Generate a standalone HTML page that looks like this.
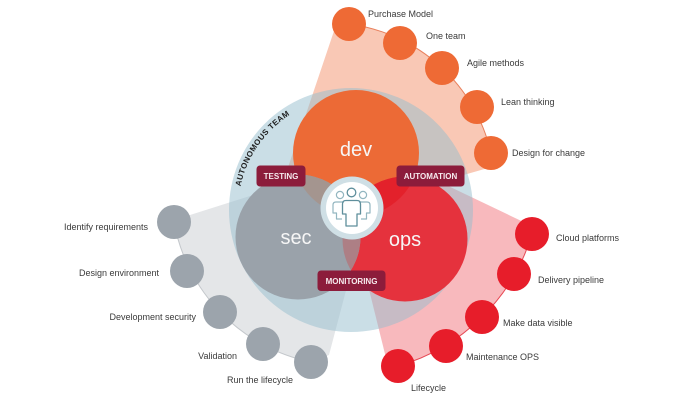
<!DOCTYPE html>
<html>
<head>
<meta charset="utf-8">
<style>
  html,body{margin:0;padding:0;background:#ffffff;}
  body{width:700px;height:406px;overflow:hidden;}
  svg{display:block;}
  .lbl{font-family:"Liberation Sans",Arial,sans-serif;font-size:9px;fill:#3a3a3a;}
  .tag{font-family:"Liberation Sans",Arial,sans-serif;font-size:8px;font-weight:bold;fill:#f6eaee;}
  .big{font-family:"Liberation Sans",Arial,sans-serif;font-size:20px;fill:#f6f6f6;font-weight:300;}
  .arc{font-family:"Liberation Sans",Arial,sans-serif;font-size:8px;font-weight:bold;fill:#1e1e1e;letter-spacing:0.4px;}
</style>
</head>
<body>
<svg width="700" height="406" viewBox="0 0 700 406" xmlns="http://www.w3.org/2000/svg">
  <defs>
    <clipPath id="cDev"><circle cx="356" cy="153" r="63"/></clipPath>
    <clipPath id="cSec"><circle cx="298" cy="237" r="62.5"/></clipPath>
    <path id="teamArc" d="M 240.5,186.5 A 113 113 0 0 1 294.5,112.1"/>
  </defs>

  <!-- Fans -->
  <path d="M 349,24 A 168 168 0 0 1 491,153 L 488,168 L 352,207 L 277,200 L 335,28 Z" fill="#f9c8b5"/>
  <path d="M 349,24 A 168 168 0 0 1 491,153" fill="none" stroke="#e9805c" stroke-width="1"/>

  <path d="M 174,222 L 190,215 L 300,180 L 358,245 L 329,355 L 311,362 A 175 175 0 0 1 174,222 Z" fill="#e4e6e8"/>
  <path d="M 311,362 A 175 175 0 0 1 174,222" fill="none" stroke="#c3c7cb" stroke-width="1"/>

  <path d="M 534,227 L 400,163 L 358,245 L 386,358 L 398,366 A 196 196 0 0 0 532,234 Z" fill="#f8b9bd"/>
  <path d="M 398,366 A 196 196 0 0 0 532,234" fill="none" stroke="#e84a55" stroke-width="1"/>

  <!-- Fan circles: orange -->
  <g fill="#ee6a35">
    <circle cx="349" cy="24" r="17"/>
    <circle cx="400" cy="43" r="17"/>
    <circle cx="442" cy="68" r="17"/>
    <circle cx="477" cy="107" r="17"/>
    <circle cx="491" cy="153" r="17"/>
  </g>
  <!-- gray -->
  <g fill="#9ca4ac">
    <circle cx="174" cy="222" r="17"/>
    <circle cx="187" cy="271" r="17"/>
    <circle cx="220" cy="312" r="17"/>
    <circle cx="263" cy="344" r="17"/>
    <circle cx="311" cy="362" r="17"/>
  </g>
  <!-- red -->
  <g fill="#e71d2a">
    <circle cx="532" cy="234" r="17"/>
    <circle cx="514" cy="274" r="17"/>
    <circle cx="482" cy="317" r="17"/>
    <circle cx="446" cy="346" r="17"/>
    <circle cx="398" cy="366" r="17"/>
  </g>

  <!-- Autonomous team circle (translucent) -->
  <circle cx="351" cy="210" r="122" fill="rgb(150,190,205)" fill-opacity="0.5"/>

  <!-- Venn circles -->
  <circle cx="356" cy="153" r="63" fill="#ec6a36"/>
  <circle cx="405" cy="239" r="62.5" fill="#e5323d"/>
  <circle cx="298" cy="237" r="62.5" fill="#9aa2aa"/>
  <!-- overlaps -->
  <circle cx="405" cy="239" r="62.5" fill="#e3212b" clip-path="url(#cDev)"/>
  <circle cx="298" cy="237" r="62.5" fill="#a4958f" clip-path="url(#cDev)"/>
  <circle cx="405" cy="239" r="62.5" fill="#ad7f85" clip-path="url(#cSec)"/>

  <!-- Tag boxes -->
  <rect x="256.5" y="165.5" width="49" height="21" rx="3.5" fill="#8c1c3b"/>
  <text class="tag" x="281" y="179" text-anchor="middle">TESTING</text>
  <rect x="396.5" y="165.5" width="68" height="21" rx="3.5" fill="#8c1c3b"/>
  <text class="tag" x="430.5" y="179" text-anchor="middle">AUTOMATION</text>
  <rect x="317.5" y="270.5" width="68" height="20.5" rx="3.5" fill="#8c1c3b"/>
  <text class="tag" x="351.5" y="283.8" text-anchor="middle">MONITORING</text>

  <!-- Center icon -->
  <circle cx="352" cy="208" r="31.5" fill="#cfdfe5"/>
  <circle cx="352" cy="208" r="26" fill="#ffffff"/>
  <g fill="none" stroke="#93b6c0" stroke-width="1.2" stroke-linejoin="round">
    <circle cx="340" cy="195" r="3.6"/>
    <circle cx="363" cy="195" r="3.6"/>
    <path d="M 344,202 L 336,202 Q 333,202 333,205 L 333,213 L 336.5,213 L 336.5,219 L 342,219"/>
    <path d="M 359,202 L 367,202 Q 370,202 370,205 L 370,213 L 366.5,213 L 366.5,219 L 361,219"/>
  </g>
  <g fill="none" stroke="#5f8f9c" stroke-width="1.3" stroke-linejoin="round">
    <circle cx="351.5" cy="192.5" r="4.3"/>
    <path d="M 346,226 L 346,214 L 342.5,214 L 342.5,204 Q 342.5,200.5 346,200.5 L 357,200.5 Q 360.5,200.5 360.5,204 L 360.5,214 L 357,214 L 357,226 Z"/>
  </g>

  <!-- big labels -->
  <text class="big" x="356" y="156" text-anchor="middle">dev</text>
  <text class="big" x="296" y="244" text-anchor="middle">sec</text>
  <text class="big" x="405" y="246" text-anchor="middle">ops</text>

  <!-- curved text -->
  <text class="arc"><textPath href="#teamArc">AUTONOMOUS TEAM</textPath></text>

  <!-- outer labels -->
  <text class="lbl" x="368" y="17">Purchase Model</text>
  <text class="lbl" x="426" y="39">One team</text>
  <text class="lbl" x="467" y="66">Agile methods</text>
  <text class="lbl" x="501" y="105">Lean thinking</text>
  <text class="lbl" x="512" y="156">Design for change</text>

  <text class="lbl" x="148" y="230" text-anchor="end">Identify requirements</text>
  <text class="lbl" x="159" y="276" text-anchor="end">Design environment</text>
  <text class="lbl" x="196" y="320" text-anchor="end">Development security</text>
  <text class="lbl" x="237" y="359" text-anchor="end">Validation</text>
  <text class="lbl" x="293" y="383" text-anchor="end">Run the lifecycle</text>

  <text class="lbl" x="556" y="241">Cloud platforms</text>
  <text class="lbl" x="538" y="283">Delivery pipeline</text>
  <text class="lbl" x="503" y="326">Make data visible</text>
  <text class="lbl" x="466" y="360">Maintenance OPS</text>
  <text class="lbl" x="411" y="391">Lifecycle</text>
</svg>
</body>
</html>
